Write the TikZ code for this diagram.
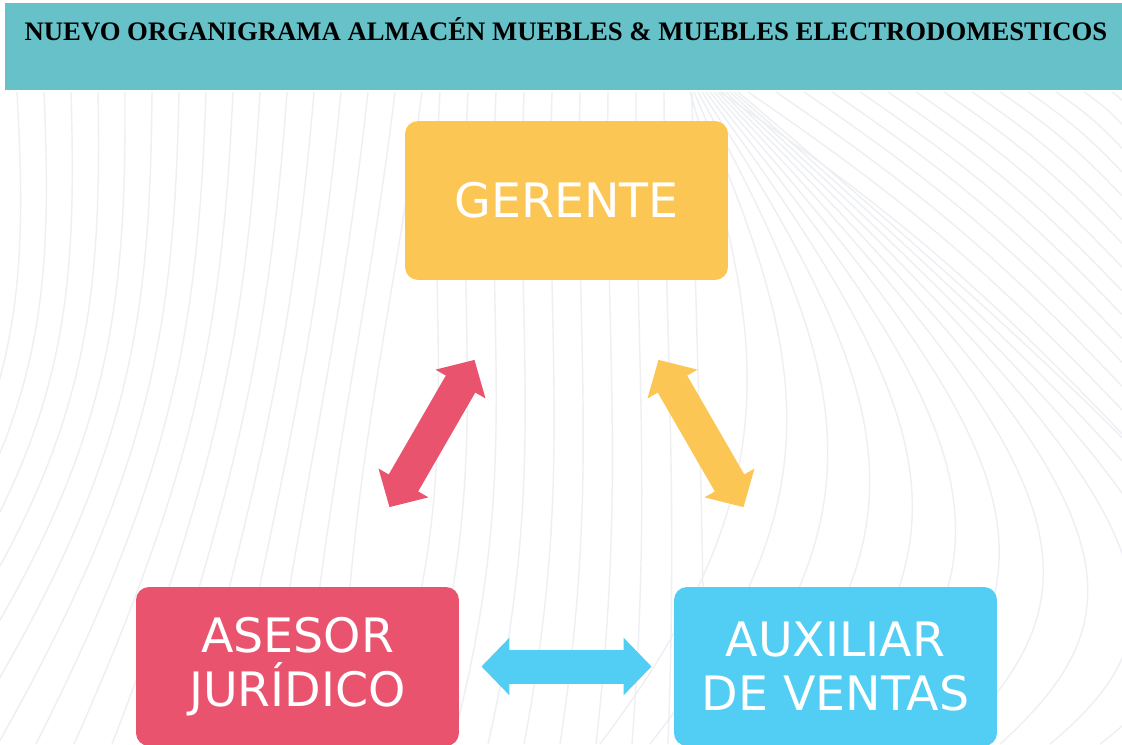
\documentclass[tikz,border=0pt]{standalone}
\usepackage{fontspec}
\setmainfont{DejaVu Sans}
\newfontfamily\titlefont{Liberation Serif}
\usetikzlibrary{arrows.meta}
\definecolor{cabecera}{HTML}{66C1C8}
\definecolor{amarillo}{HTML}{FCC655}
\definecolor{rojo}{HTML}{E9536E}
\definecolor{celeste}{HTML}{52CDF3}
\definecolor{ondas}{HTML}{EDEFF2}

\begin{document}
\begin{tikzpicture}[
			x=0.02cm, y=-0.02cm,
			cargo/.style={rectangle, rounded corners=0.26cm, minimum width=6.46cm, minimum height=3.18cm, inner sep=0, text=white, align=center, font=\fontsize{27}{31}\selectfont},
			flecha/.style={line width=0.68cm, {Triangle[length=0.56cm,width=1.12cm]}-{Triangle[length=0.56cm,width=1.12cm]}, shorten <=3.68cm, shorten >=3.68cm},
			onda/.style={draw=ondas, line width=0.8pt},
		]
		\useasboundingbox (0,0) rectangle (1122,744);
		\fill[white] (0,0) rectangle (1122,744);
		\foreach \i in {0,...,15}
			\draw[onda] (17+27*\i,92) .. controls (30+24*\i,330) and (20+22*\i,470) .. (-230+38*\i,744);
		\foreach \i in {0,...,9}
			\draw[onda] (440+28*\i,92) .. controls (425+30*\i,350) and (470+26*\i,480) .. (380+36*\i,744);
		\foreach \i in {0,...,14}
			\draw[onda] (720+28*\i,92) to[bend left=6] (1122,{92+(402-28*\i)*0.85});
		\foreach \i in {0,...,12}
			\draw[onda] (690+4*\i,92) .. controls (760+45*\i,330+20*\i) and (800+45*\i,480+15*\i) .. (600+50*\i,744);
		\fill[cabecera] (5,3) rectangle (1122,90);
		\node (titulo) at (566,29) {\titlefont\bfseries\fontsize{15.2}{18}\selectfont NUEVO ORGANIGRAMA ALMACÉN MUEBLES \& MUEBLES ELECTRODOMESTICOS};
		\node[cargo, fill=amarillo] (gerente) at (566.5,200.5) {GERENTE};
		\node[cargo, fill=rojo] (asesor) at (297.5,666.5) {ASESOR\\JURÍDICO};
		\node[cargo, fill=celeste] (auxiliar) at (835.5,666.5) {AUXILIAR\\DE VENTAS};
		\draw[flecha, rojo] (asesor.center) -- (gerente.center);
		\draw[flecha, amarillo] (gerente.center) -- (auxiliar.center);
		\draw[flecha, celeste] (asesor.center) -- (auxiliar.center);
		\end{tikzpicture}
\end{document}
